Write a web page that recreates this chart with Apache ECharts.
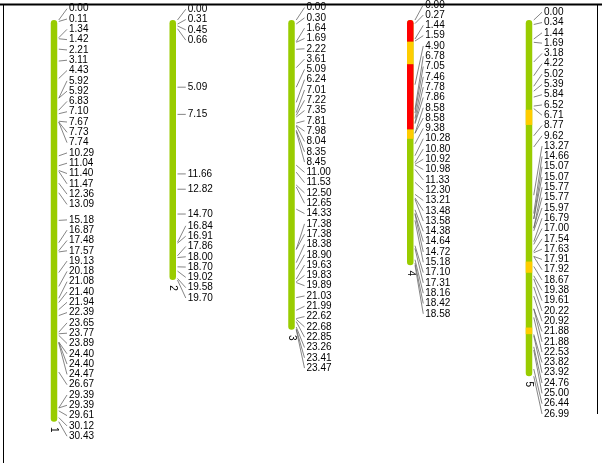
<!DOCTYPE html>
<html>
<head>
<meta charset="utf-8">
<script src="https://cdn.jsdelivr.net/npm/echarts@6/dist/echarts.min.js"></script>
<style>
  html, body { margin: 0; padding: 0; background: #fff; }
  #chart { width: 602px; height: 463px; }
</style>
</head>
<body>
<div id="chart"></div>
<script>
// Linkage groups and marker positions (cM)
const groupNames = ['1', '2', '3', '4', '5'];

const group1Markers = [0.00, 0.11, 1.34, 1.42, 2.21, 3.11, 4.43, 5.92, 5.92, 6.83, 7.10, 7.67, 7.73, 7.74,
  10.29, 11.04, 11.40, 11.47, 12.36, 13.09, 15.18, 16.87, 17.48, 17.57, 19.13, 20.18, 21.08, 21.40,
  21.94, 22.39, 23.65, 23.77, 23.89, 24.40, 24.40, 24.47, 26.67, 29.39, 29.39, 29.61, 30.12, 30.43];
const group2Markers = [0.00, 0.31, 0.45, 0.66, 5.09, 7.15, 11.66, 12.82, 14.70, 16.84, 16.91, 17.86,
  18.00, 18.70, 19.02, 19.58, 19.70];
const group3Markers = [0.00, 0.30, 1.64, 1.69, 2.22, 3.61, 5.09, 6.24, 7.01, 7.22, 7.35, 7.81, 7.98,
  8.04, 8.35, 8.45, 11.00, 11.53, 12.50, 12.65, 14.33, 17.38, 17.38, 18.38, 18.90, 19.63, 19.83,
  19.89, 21.03, 21.99, 22.62, 22.68, 22.85, 23.26, 23.41, 23.47];
const group4Markers = [0.00, 0.27, 1.44, 1.59, 4.90, 6.78, 7.05, 7.46, 7.78, 7.86, 8.58, 8.58, 9.38,
  10.28, 10.80, 10.92, 10.98, 11.33, 12.30, 13.21, 13.48, 13.58, 14.38, 14.64, 14.72, 15.18, 17.10,
  17.31, 18.16, 18.42, 18.58];
const group5Markers = [0.00, 0.34, 1.44, 1.69, 3.18, 4.22, 5.02, 5.39, 5.84, 6.52, 6.71, 8.77, 9.62,
  13.27, 14.66, 15.07, 15.07, 15.77, 15.77, 15.97, 16.79, 17.00, 17.54, 17.63, 17.91, 17.92, 18.67,
  19.38, 19.61, 20.22, 20.92, 21.88, 21.88, 22.53, 23.82, 23.92, 24.76, 25.00, 26.44, 26.99];

// Highlighted intervals (start cM, end cM, kind)
const group4Regions = [[0.00, 1.65, 'major'], [1.65, 3.35, 'minor'], [3.35, 8.30, 'major'], [8.30, 9.00, 'minor']];
const group5Regions = [[6.80, 7.95, 'minor'], [18.30, 19.15, 'minor'], [23.30, 23.80, 'minor']];

const allMarkers = [group1Markers, group2Markers, group3Markers, group4Markers, group5Markers];
const allRegions = [[], [], [], group4Regions, group5Regions];

const COLORS = { base: '#99cc00', major: '#ff0000', minor: '#ffcc00' };
const BAR_W = 6.5;
const LABEL_GAP = 10.3;
const LABEL_OFFSET = 15;
const FONT = '10px Arial, "Liberation Sans", sans-serif';

// Spread labels so they do not overlap, keeping each run as close to its markers as possible
function spreadLabels(targets, gap) {
  const blocks = [];
  targets.forEach((t, i) => {
    let b = { start: i, n: 1, sum: t, top: t };
    while (blocks.length) {
      const p = blocks[blocks.length - 1];
      if (p.top + p.n * gap > b.top) {
        blocks.pop();
        const sum = p.sum + b.sum - b.n * p.n * gap;
        const n = p.n + b.n;
        b = { start: p.start, n: n, sum: sum, top: sum / n };
      } else break;
    }
    blocks.push(b);
  });
  const out = [];
  blocks.forEach(b => { for (let k = 0; k < b.n; k++) out.push(b.top + k * gap); });
  return out;
}

function renderGroup(params, api) {
  const gi = params.dataIndex;
  const xv = api.value(0);
  const markers = allMarkers[gi];
  const maxCM = markers[markers.length - 1];
  const topPt = api.coord([xv, 0]);
  const botPt = api.coord([xv, maxCM]);
  const cx = topPt[0];
  const children = [];

  // chromosome body
  children.push({
    type: 'rect',
    shape: { x: cx - BAR_W / 2, y: topPt[1], width: BAR_W, height: botPt[1] - topPt[1], r: BAR_W / 2 },
    style: { fill: COLORS.base }
  });
  allRegions[gi].forEach(seg => {
    const y0 = api.coord([xv, seg[0]])[1];
    const y1 = api.coord([xv, seg[1]])[1];
    const r = seg[0] === 0 ? [BAR_W / 2, BAR_W / 2, 0, 0] : 0;
    children.push({
      type: 'rect',
      shape: { x: cx - BAR_W / 2, y: y0, width: BAR_W, height: y1 - y0, r: r },
      style: { fill: COLORS[seg[2]] }
    });
  });

  // markers: leader lines and labels
  const targets = markers.map(m => api.coord([xv, m])[1]);
  const labelYs = spreadLabels(targets, LABEL_GAP);
  const lx = cx + LABEL_OFFSET;
  markers.forEach((m, i) => {
    children.push({
      type: 'line',
      shape: { x1: cx + BAR_W / 2 + 1.5, y1: targets[i], x2: lx - 2, y2: labelYs[i] },
      style: { stroke: '#666', lineWidth: 0.8 }
    });
    children.push({
      type: 'text',
      x: lx, y: labelYs[i],
      style: { text: m.toFixed(2), fill: '#000', font: FONT, align: 'left', verticalAlign: 'middle' }
    });
  });

  // group name under the body
  children.push({
    type: 'text',
    x: cx, y: botPt[1] + 8,
    rotation: -Math.PI / 2,
    style: { text: groupNames[gi], fill: '#000', font: FONT, align: 'center', verticalAlign: 'middle' }
  });

  return { type: 'group', children: children };
}

const chart = echarts.init(document.getElementById('chart'), null, { renderer: 'canvas' });
chart.setOption({
  animation: false,
  backgroundColor: '#fff',
  grid: { left: 54, right: 73, top: 20, bottom: 7.4 },
  xAxis: { type: 'value', min: 1, max: 5, show: false },
  yAxis: { type: 'value', min: 0, max: 33, inverse: true, show: false },
  graphic: [
    { type: 'line', shape: { x1: 0, y1: 4.5, x2: 602, y2: 4.5 }, style: { stroke: '#000', lineWidth: 2 } },
    { type: 'line', shape: { x1: 3.5, y1: 4, x2: 3.5, y2: 463 }, style: { stroke: '#000', lineWidth: 1 } },
    { type: 'line', shape: { x1: 597.5, y1: 4, x2: 597.5, y2: 414 }, style: { stroke: '#000', lineWidth: 1 } }
  ],
  series: [{
    type: 'custom',
    clip: false,
    renderItem: renderGroup,
    data: groupNames.map((n, i) => [i + 1])
  }]
});
</script>
</body>
</html>
